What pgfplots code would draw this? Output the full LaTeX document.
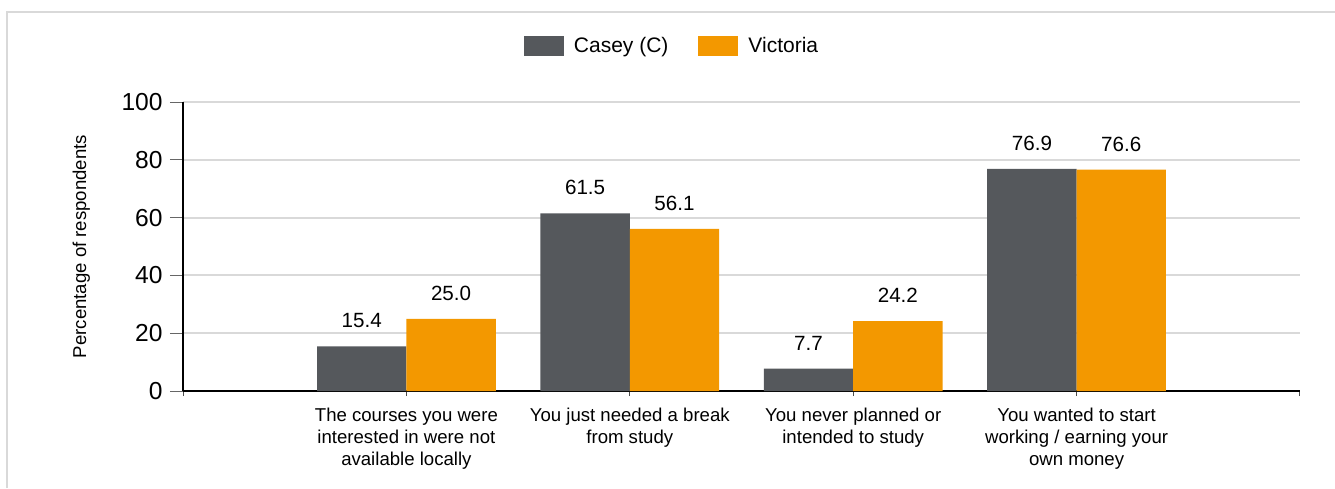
\documentclass[border=0pt]{standalone}
\usepackage{pgfplots}
\pgfplotsset{compat=1.18}
\usepackage{fontspec}
\setmainfont{Liberation Sans}

\definecolor{casey}{RGB}{85,88,92}
\definecolor{vic}{RGB}{243,152,0}
\definecolor{gridgray}{RGB}{217,217,217}

\begin{document}
\begin{tikzpicture}
  % page is 1335 x 488 px at 2 px per pt
  \path[use as bounding box] (0,0) rectangle (667.5pt,244pt);
  % outer frame (only left and top edges are visible)
  \draw[gridgray, line width=1pt] (3.5pt,0pt) -- (3.5pt,238pt) -- (667.5pt,238pt);

  \begin{axis}[
      at={(91.5pt,48.5pt)}, anchor=south west,
      scale only axis,
      width=558.5pt, height=144.5pt,
      xmin=0, xmax=5,
      ymin=0, ymax=100,
      clip=false,
      axis x line=bottom, axis y line=left,
      axis line style={-, black, line width=1pt},
      xtick={0,1,2,3,4,5},
      xticklabels={,
        {The courses you were\\interested in were not\\available locally},
        {You just needed a break\\from study},
        {You never planned or\\intended to study},
        {You wanted to start\\working / earning your\\own money},
      },
      xticklabel style={align=center, inner sep=0pt, yshift=-2pt,
        font=\fontsize{9.3}{11}\selectfont},
      ytick={0,20,40,60,80,100},
      yticklabel style={inner sep=0pt, xshift=-3.5pt,
        font=\fontsize{12.3}{14}\selectfont},
      /pgf/number format/assume math mode=true,
      tick align=outside,
      major tick length=6.5pt,
      xtick style={/pgfplots/major tick length=2.5pt, black!70, line width=0.5pt},
      ytick style={black!60, line width=0.5pt},
      ymajorgrids,
      grid style={gridgray, line width=1pt},
      every axis y label/.style={at={(axis description cs:-0.091,0.5)},
        rotate=90, anchor=center, font=\fontsize{9.3}{11}\selectfont},
      ylabel={Percentage of respondents},
      ybar, bar width=0.4,
      nodes near coords,
      nodes near coords style={anchor=south, inner sep=0pt, yshift=9pt,
        font=\fontsize{10.3}{12}\selectfont, black,
        /pgf/number format/fixed, /pgf/number format/precision=1,
        /pgf/number format/fixed zerofill},
      legend columns=2,
      legend style={draw=none, at={(0.4387,1.194)}, anchor=center,
        font=\fontsize{10.5}{12}\selectfont,
        /tikz/every even column/.append style={column sep=13pt}},
    ]
    \addplot[fill=casey, draw=none, bar shift=-0.2,
      legend image code/.code={\fill[casey] (0pt,-5pt) rectangle (20pt,5pt);
        \path (23pt,0pt);}]
      coordinates {(1,15.4) (2,61.5) (3,7.7) (4,76.9)};
    \addplot[fill=vic, draw=none, bar shift=0.2,
      legend image code/.code={\fill[vic] (0pt,-5pt) rectangle (20pt,5pt);
        \path (23pt,0pt);}]
      coordinates {(1,25.0) (2,56.1) (3,24.2) (4,76.6)};
    \legend{Casey (C), Victoria}
  \end{axis}
\end{tikzpicture}
\end{document}
